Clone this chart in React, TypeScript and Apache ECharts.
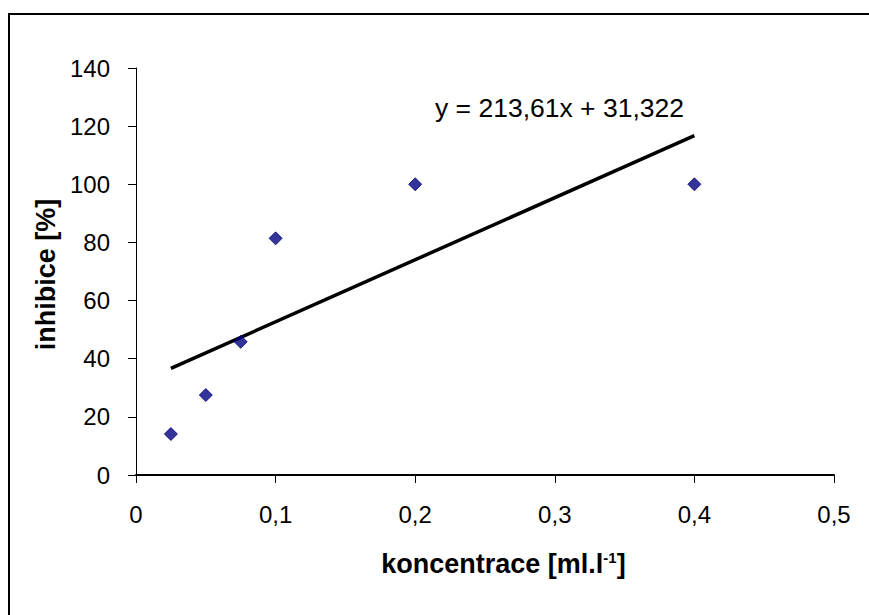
import React, { useEffect, useRef } from "react";
import * as echarts from "echarts";

const concentrations = [0.025, 0.05, 0.075, 0.1, 0.2, 0.4];
const inhibition = [14.1, 27.5, 45.8, 81.4, 100, 100];
const trendSlope = 213.61;
const trendIntercept = 31.322;
const trendRange = [0.025, 0.4];
const equationText = "y = 213,61x + 31,322";

const FONT = "'Liberation Sans', Arial, sans-serif";

export default function App() {
  const ref = useRef<HTMLDivElement>(null);
  useEffect(() => {
    if (!ref.current) return;
    const chart = echarts.init(ref.current, undefined, { renderer: "svg" });
    const fmt = (v: number) => String(v).replace(".", ",");
    chart.setOption({
      animation: false,
      backgroundColor: "#ffffff",
      textStyle: { fontFamily: FONT },
      grid: { left: 136, right: 35, top: 68, bottom: 140, containLabel: false },
      xAxis: {
        type: "value",
        min: 0,
        max: 0.5,
        interval: 0.1,
        name: "koncentrace [ml.l{sup|-1}]",
        nameLocation: "middle",
        nameGap: 75,
        nameTextStyle: {
          fontFamily: FONT,
          fontSize: 27,
          fontWeight: "bold",
          color: "#000",
          padding: [0, 0, 0, 37],
          rich: {
            sup: { fontSize: 15, fontWeight: "bold", verticalAlign: "top", padding: [0, 0, 13, 0], color: "#000", fontFamily: FONT },
          },
        },
        axisLine: { show: true, lineStyle: { color: "#000", width: 2 } },
        axisTick: { show: true, inside: false, length: 8, lineStyle: { color: "#000", width: 1 } },
        axisLabel: { formatter: fmt, fontSize: 24, color: "#000", margin: 27, fontFamily: FONT },
        splitLine: { show: false },
      },
      yAxis: {
        type: "value",
        min: 0,
        max: 140,
        interval: 20,
        name: "inhibice [%]",
        nameLocation: "middle",
        nameGap: 64,
        nameTextStyle: { fontFamily: FONT, fontSize: 27, fontWeight: "bold", color: "#000", padding: [0, 6, 0, 0] },
        axisLine: { show: true, onZero: false, lineStyle: { color: "#000", width: 1 } },
        axisTick: { show: true, inside: false, length: 8, lineStyle: { color: "#000", width: 1 } },
        axisLabel: { fontSize: 24, color: "#000", margin: 26, fontFamily: FONT },
        splitLine: { show: false },
      },
      graphic: [
        {
          type: "polyline",
          shape: { points: [[9, 615], [9, 14], [869, 14]] },
          style: { stroke: "#000", lineWidth: 2, fill: null },
          silent: true,
        },
        {
          type: "text",
          left: 435,
          top: 94,
          style: { text: equationText, fontSize: 26.5, fontFamily: FONT, fill: "#000" },
          silent: true,
        },
      ],
      series: [
        {
          type: "line",
          data: trendRange.map((x) => [x, trendSlope * x + trendIntercept]),
          symbol: "none",
          lineStyle: { color: "#000", width: 3.5 },
          z: 2,
        },
        {
          type: "scatter",
          data: concentrations.map((c, i) => [c, inhibition[i]]),
          symbol: "diamond",
          symbolSize: 13,
          itemStyle: { color: "#000080", borderColor: "#000080", borderWidth: 1 },
          z: 3,
        },
      ],
    });
    return () => chart.dispose();
  }, []);
  return (
    <div
      ref={ref}
      style={{ position: "fixed", left: 0, top: 0, width: 869, height: 615 }}
    />
  );
}
